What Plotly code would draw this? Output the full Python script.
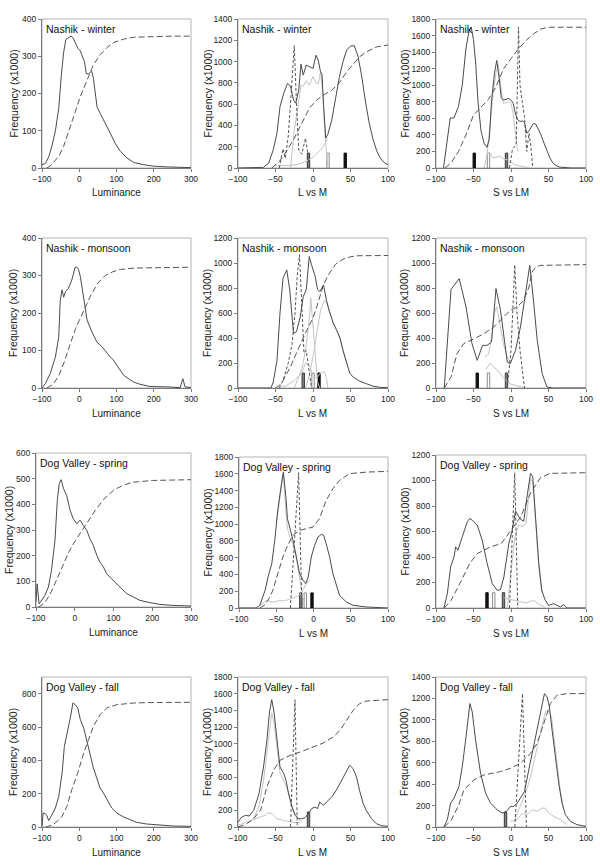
import plotly.graph_objects as go

# ------------------------------------------------------------------ DATA
LUM_TICKS = [-100, 0, 100, 200, 300]
CHR_TICKS = [-100, -50, 0, 50, 100]

# ---- Nashik winter : luminance
nw_lum_x = [-100, -91, -82, -73, -64, -55, -48, -42, -36, -29, -22, -17, -11, -4, 3, 8, 14, 19, 25, 30, 34, 38, 43, 48, 56, 70, 83, 96, 110, 128, 146, 172, 199, 235, 270, 300]
nw_lum_y = [9, 12, 30, 60, 100, 160, 250, 310, 345, 350, 354, 350, 335, 322, 314, 300, 285, 253, 253, 258, 259, 240, 200, 163, 147, 121, 94, 67, 45, 27, 15, 9, 5, 3, 2, 1]
nw_lum_cx = [-87, -75, -65, -55, -42, -29, -15, 3, 21, 38, 56, 74, 92, 119, 146, 190, 250, 300]
nw_lum_cy = [0, 8, 20, 31, 58, 94, 138, 192, 237, 277, 304, 323, 337, 346, 351, 353, 354, 354]

# ---- Nashik monsoon : luminance
nm_lum_x = [-100, -91, -78, -64, -55, -51, -46, -42, -37, -29, -20, -11, -6, -2, 3, 12, 21, 34, 47, 61, 74, 83, 92, 105, 119, 132, 146, 163, 190, 235, 271, 278, 284, 300]
nm_lum_y = [0, 12, 38, 83, 137, 235, 262, 242, 257, 266, 288, 322, 322, 316, 297, 244, 181, 150, 123, 110, 92, 83, 74, 56, 34, 25, 16, 10, 4, 3, 1, 25, 3, 1]
nm_lum_cx = [-87, -70, -55, -40, -25, -10, 0, 15, 30, 50, 70, 90, 110, 150, 200, 300]
nm_lum_cy = [0, 10, 32, 70, 115, 158, 180, 212, 245, 280, 300, 310, 316, 320, 321, 322]

# ---- Dog Valley spring : luminance
ds_lum_x = [-100, -97, -92, -85, -77, -68, -60, -51, -45, -40, -35, -29, -21, -12, -4, 5, 14, 22, 31, 39, 48, 57, 65, 74, 82, 95, 108, 121, 134, 151, 168, 194, 220, 254, 300]
ds_lum_y = [20, 90, 12, 26, 45, 78, 143, 260, 416, 481, 496, 461, 435, 377, 344, 325, 338, 318, 299, 266, 240, 201, 175, 156, 130, 110, 91, 71, 52, 39, 26, 17, 10, 6, 4]
ds_lum_cx = [-94, -85, -77, -65, -55, -42, -29, -15, 0, 25, 50, 75, 100, 125, 150, 200, 300]
ds_lum_cy = [0, 8, 19, 45, 78, 125, 169, 215, 255, 315, 370, 420, 455, 475, 486, 493, 496]

# ---- Dog Valley fall : luminance
df_lum_x = [-100, -97, -91, -87, -82, -73, -64, -55, -46, -40, -33, -24, -17, -11, -4, 3, 12, 21, 29, 38, 47, 56, 65, 74, 87, 101, 119, 137, 154, 181, 217, 253, 300]
df_lum_y = [4, 84, 80, 68, 38, 74, 114, 184, 324, 484, 554, 654, 744, 734, 714, 644, 594, 504, 424, 354, 294, 234, 204, 164, 114, 84, 60, 44, 28, 18, 10, 6, 4]
df_lum_cx = [-90, -75, -64, -46, -33, -20, -4, 12, 25, 38, 56, 74, 101, 146, 200, 300]
df_lum_cy = [0, 10, 24, 64, 124, 224, 324, 444, 524, 604, 674, 714, 734, 744, 747, 748]

# ---- Nashik winter : L vs M
nw_lm_x = [-100, -70, -66, -59, -53, -48, -44, -39, -34, -30, -26, -23, -19, -16, -13, -9, -5, 0, 4, 7, 10, 12, 14, 17, 20, 25, 30, 35, 40, 45, 50, 55, 60, 65, 70, 75, 80, 85, 90, 95, 100]
nw_lm_y = [0, 0, 6, 47, 171, 330, 577, 702, 795, 770, 639, 608, 733, 976, 873, 967, 951, 935, 1060, 1013, 904, 880, 600, 280, 320, 450, 650, 850, 1000, 1110, 1145, 1150, 1050, 860, 620, 420, 270, 160, 90, 50, 30]
nw_lm_a_x = [-30, -25, -20, -16, -13, -9, -5, 0, 4, 7, 10, 13, 16, 20]
nw_lm_a_y = [0, 350, 580, 780, 770, 820, 780, 860, 800, 790, 900, 700, 300, 0]
nw_lm_b_x = [-50, -40, -30, -20, -10, 0, 10, 17, 20]
nw_lm_b_y = [20, 20, 25, 35, 60, 100, 170, 240, 280]
nw_lm_d_x = [-45, -40, -37, -33, -30, -25, -22, -19, -15, -10, -7, -5]
nw_lm_d_y = [0, 180, 90, 300, 600, 1150, 600, 170, 130, 280, 140, 0]
nw_lm_cx = [-55, -45, -35, -25, -15, -5, 5, 15, 25, 35, 45, 54, 62, 71, 85, 100]
nw_lm_cy = [0, 60, 160, 280, 420, 560, 640, 690, 730, 800, 904, 982, 1044, 1091, 1138, 1155]
nw_lm_bar_x = [-6, 20, 43]
nw_lm_bar_h = [140, 140, 140]

# ---- Nashik winter : S vs LM
nw_s_x = [-90, -86, -81, -76, -70, -65, -60, -56, -53, -50, -47, -44, -40, -36, -32, -29, -26, -22, -19, -16, -13, -10, -6, -3, 0, 3, 6, 9, 12, 15, 18, 21, 24, 27, 30, 33, 36, 40, 44, 48, 52, 56, 60, 65, 70, 75, 80, 100]
nw_s_y = [0, 300, 605, 605, 745, 1000, 1450, 1650, 1700, 1550, 1250, 800, 450, 300, 250, 350, 800, 1150, 1300, 1100, 850, 820, 830, 840, 820, 780, 650, 580, 560, 570, 550, 420, 450, 500, 540, 530, 480, 400, 300, 200, 120, 60, 30, 10, 5, 0, 0, 0]
nw_s_a_x = [-36, -32, -28, -24, -20, -17, -14, -10, -6, -3, 0, 3, 6, 9]
nw_s_a_y = [0, 150, 500, 900, 1150, 1250, 1000, 780, 790, 800, 780, 650, 400, 200]
nw_s_b_x = [-32, -28, -24, -20, -15, -10, -5, 0, 5, 10, 15, 20, 25]
nw_s_b_y = [180, 180, 120, 130, 140, 110, 100, 70, 40, 30, 20, 10, 0]
nw_s_d_x = [-2, 2, 4, 7, 10, 12, 15, 18, 21, 24, 26, 29]
nw_s_d_y = [0, 230, 250, 300, 1700, 1000, 800, 620, 200, 420, 300, 0]
nw_s_cx = [-88, -80, -70, -60, -50, -40, -30, -20, -10, 0, 10, 20, 30, 40, 50, 60, 100]
nw_s_cy = [0, 60, 200, 400, 640, 740, 830, 980, 1200, 1320, 1440, 1540, 1620, 1680, 1700, 1700, 1700]
nw_s_bar_x = [-49, -30, -6]
nw_s_bar_h = [180, 180, 180]

# ---- Nashik monsoon : L vs M
nm_lm_x = [-100, -56, -53, -48, -44, -40, -35, -31, -26, -22, -17, -13, -9, -5, -2, 3, 6, 9, 14, 18, 22, 27, 31, 36, 40, 45, 49, 53, 58, 62, 71, 80, 90, 100]
nm_lm_y = [0, 0, 48, 222, 600, 878, 945, 785, 437, 450, 570, 731, 785, 1052, 986, 892, 790, 771, 825, 700, 610, 520, 470, 400, 300, 200, 120, 90, 70, 55, 35, 15, 5, 2]
nm_lm_a_x = [-25, -15, -10, -5, -3, 0, 3, 6, 9]
nm_lm_a_y = [0, 150, 300, 550, 720, 500, 250, 50, 0]
nm_lm_b_x = [-10, -5, 0, 5, 10, 15, 18, 22, 27, 31, 36, 40, 45]
nm_lm_b_y = [0, 100, 250, 450, 620, 700, 690, 610, 520, 470, 400, 300, 200]
nm_lm_e_x = [-45, -35, -25, -15, -10, -5, 0, 5, 10, 15, 18, 20]
nm_lm_e_y = [0, 20, 60, 120, 200, 180, 100, 80, 120, 130, 80, 0]
nm_lm_d_x = [-45, -40, -33, -28, -24, -21, -18, -15, -12, -9, -6, -2]
nm_lm_d_y = [0, 60, 200, 350, 600, 900, 1066, 700, 280, 300, 150, 0]
nm_lm_cx = [-50, -45, -40, -35, -30, -25, -20, -15, -10, -5, 0, 5, 10, 14, 20, 25, 30, 40, 50, 60, 80, 100]
nm_lm_cy = [0, 20, 60, 110, 170, 240, 310, 380, 440, 500, 560, 650, 740, 825, 900, 950, 990, 1030, 1050, 1058, 1060, 1060]
nm_lm_bar_x = [-13, 0, 8]
nm_lm_bar_h = [120, 120, 120]

# ---- Nashik monsoon : S vs LM
nm_s_x = [-89, -80, -69, -60, -52, -45, -38, -32, -26, -20, -14, -9.5, -5, -1, 6, 12.6, 19, 25, 29.5, 35, 41.5, 48, 55, 100]
nm_s_y = [0, 789, 875, 648, 355, 221, 341, 341, 368, 795, 621, 408, 208, 195, 301, 488, 728, 981, 728, 381, 115, 8, 0, 0]
nm_s_a_x = [-35, -30, -26, -22, -19, -15, -10, -5, 0]
nm_s_a_y = [250, 270, 400, 600, 650, 520, 350, 250, 200]
nm_s_b_x = [-33, -28, -20, -15, -10, -5, 0, 5, 10, 20]
nm_s_b_y = [150, 200, 150, 120, 80, 50, 30, 20, 15, 0]
nm_s_d_x = [-5, 0, 3, 5, 8, 12, 18]
nm_s_d_y = [0, 300, 700, 985, 600, 300, 0]
nm_s_cx = [-89, -80, -72, -63, -49, -36, -23, -10, -1, 8, 17, 24, 28, 33, 39, 100]
nm_s_cy = [0, 88, 275, 355, 395, 435, 488, 568, 621, 648, 701, 808, 928, 968, 981, 987]
nm_s_bar_x = [-45, -30, -6]
nm_s_bar_h = [120, 120, 120]

# ---- Dog Valley spring : L vs M
ds_lm_x = [-100, -77, -72, -65, -61, -56, -52, -48, -43, -40.5, -37, -35, -32, -27.5, -23, -18.6, -14, -10.5, -7, -3, 1.5, 6, 10.5, 13.6, 17, 21.7, 26, 31, 35, 44, 53, 71, 100]
ds_lm_y = [0, 0, 32, 210, 370, 528, 806, 1164, 1482, 1620, 1323, 1065, 965, 806, 608, 410, 330, 290, 370, 608, 747, 846, 878, 866, 767, 608, 410, 250, 150, 72, 32, 12, 0]
ds_lm_a_x = [-50, -45, -40.5, -37, -35, -32, -27, -23, -19, -15, -12]
ds_lm_a_y = [1000, 1350, 1600, 1150, 950, 850, 750, 600, 350, 150, 50]
ds_lm_b_x = [-72, -63, -54, -45, -39, -30, -25, -19, -15, -10, -5]
ds_lm_b_y = [30, 90, 70, 90, 83, 110, 130, 150, 200, 290, 330]
ds_lm_d_x = [-31, -20, -15.5]
ds_lm_d_y = [0, 1613, 0]
ds_lm_cx = [-72, -65, -60, -55, -50, -45, -41, -35, -27.5, -18.6, -10, -0.7, 8, 17, 26, 35, 48.5, 71, 100]
ds_lm_cy = [0, 40, 110, 200, 350, 500, 608, 740, 866, 925, 945, 965, 1065, 1283, 1422, 1522, 1602, 1620, 1629]
ds_lm_bar_x = [-17, -11, -2]
ds_lm_bar_h = [180, 180, 180]

# ---- Dog Valley spring : S vs LM
ds_s_x = [-89.4, -84.9, -80.5, -76, -73.8, -70.7, -65, -58.3, -55.2, -51.7, -45, -38.4, -31.7, -25, -18.4, -14, -9.5, -2.9, 1.6, 6, 12, 17, 22, 26, 29, 33, 37, 41, 45, 50, 57, 65.9, 70.3, 74.7, 100]
ds_s_y = [0, 113, 322, 401, 480, 453, 558, 676, 702, 689, 650, 532, 348, 191, 139, 144, 244, 506, 610, 760, 700, 680, 900, 1056, 1030, 700, 350, 140, 70, 20, 34, 8, 26, 0, 0]
ds_s_a_x = [-5, 0, 5, 10, 15, 20, 23, 26, 29, 33, 37, 41]
ds_s_a_y = [0, 300, 550, 650, 640, 660, 850, 1010, 990, 680, 330, 120]
ds_s_b_x = [-10, -5, 0, 5, 10, 15, 20, 25, 30, 35, 40, 45]
ds_s_b_y = [80, 70, 65, 60, 50, 45, 40, 50, 60, 40, 20, 10]
ds_s_d_x = [-2, 5, 9]
ds_s_d_y = [0, 1060, 0]
ds_s_cx = [-89, -80, -70, -62, -55, -45, -35, -27, -13, 0, 13, 26, 39, 52, 100]
ds_s_cy = [0, 60, 170, 270, 350, 427, 460, 480, 505, 610, 715, 900, 1020, 1056, 1061]
ds_s_bar_x = [-32, -23, -10]
ds_s_bar_h = [120, 120, 120]

# ---- Dog Valley fall : L vs M
df_lm_x = [-100, -95, -90, -85, -79, -72, -66, -61.5, -58, -55, -52, -48, -44, -39, -36, -33, -28, -24, -19, -15, -10.6, -6, -2, 2.7, 6, 9, 13.7, 18, 25, 31, 38, 44.7, 49, 53.5, 58, 62, 67, 71, 78, 84.5, 91, 100]
df_lm_y = [60, 120, 140, 132, 200, 400, 720, 1040, 1380, 1528, 1380, 1080, 720, 640, 560, 420, 240, 140, 100, 100, 112, 160, 220, 240, 220, 300, 260, 300, 360, 440, 560, 680, 740, 700, 600, 440, 280, 200, 100, 40, 16, 8]
df_lm_a_x = [-80, -72, -66, -61.5, -58, -55, -52, -48, -44, -39, -35, -30, -25, -20, -15]
df_lm_a_y = [80, 250, 550, 900, 1200, 1370, 1250, 950, 650, 550, 480, 300, 180, 100, 60]
df_lm_b_x = [-100, -88, -75, -64, -60, -55, -48, -39, -30, -17]
df_lm_b_y = [20, 60, 100, 140, 170, 160, 100, 80, 60, 50]
df_lm_d_x = [-30, -24, -21]
df_lm_d_y = [0, 1528, 0]
df_lm_cx = [-100, -90, -80, -70, -61.5, -52.7, -44, -30.5, -17, 0, 13.7, 27, 36, 44.7, 53.5, 62, 71, 100]
df_lm_cy = [0, 30, 90, 200, 480, 680, 800, 860, 900, 960, 1008, 1080, 1160, 1280, 1400, 1480, 1512, 1528]
df_lm_bar_x = [-6]
df_lm_bar_h = [180]

# ---- Dog Valley fall : S vs LM
df_s_x = [-89.4, -84.9, -80.5, -76, -69.4, -65, -60.5, -54.8, -51.7, -47.2, -40.6, -33.9, -27.3, -18.4, -11.8, -6, -0.7, 3.8, 8.2, 12.6, 18, 23.7, 28.2, 32.6, 38.4, 44.6, 48.1, 51.2, 54.8, 59.2, 63.6, 68, 72.5, 79.2, 88, 100]
df_s_y = [0, 68, 223, 270, 378, 563, 811, 1152, 1075, 811, 502, 316, 223, 161, 130, 145, 192, 192, 223, 270, 331, 533, 688, 843, 1028, 1245, 1214, 1121, 904, 657, 409, 223, 115, 53, 22, 6]
df_s_a_x = [5, 10, 16, 20, 25, 30, 34, 40, 46, 49, 54, 58, 62, 66, 70]
df_s_a_y = [68, 150, 254, 330, 440, 600, 719, 904, 1075, 1090, 1028, 811, 560, 330, 180]
df_s_b_x = [-0.7, 8.2, 14.9, 21.5, 28, 34.8, 41.5, 45.9, 50.3, 57, 65.9, 74.7]
df_s_b_y = [53, 68, 130, 115, 161, 145, 176, 176, 130, 99, 68, 22]
df_s_d_x = [5.1, 15.3, 20.6]
df_s_d_y = [0, 1245, 0]
df_s_cx = [-89, -80, -70, -62.7, -49.4, -36, -14, -0.7, 12.6, 26, 34.8, 43.7, 52.5, 61.4, 74.7, 100]
df_s_cy = [0, 60, 200, 347, 440, 486, 517, 548, 595, 688, 780, 966, 1152, 1230, 1245, 1245]
df_s_bar_x = [-7.3]
df_s_bar_h = [140]

# ------------------------------------------------------------------ STYLE
W, H = 600, 865
NARROW = "Liberation Sans Narrow, Arial Narrow, Liberation Sans, Arial, sans-serif"
REG = "Liberation Sans, Arial, sans-serif"
C_SOLID = "#4a4a4a"
C_LIGHT = "#c4c4c4"
C_DASH = "#555555"
C_AXIS = "#7a7a7a"
C_FRAME = "#b4b4b4"
BAR_FILL = {"k": "#111111", "w": "#ffffff", "g": "#808080"}
BAR_LINE = {"k": "#111111", "w": "#8c8c8c", "g": "#3a3a3a"}

# panel boxes in page pixels: left, top, right, bottom
panels = [
    dict(box=(42, 19, 191, 168), title="Nashik - winter", xt="Luminance", kind="lum", ymax=400, dt=100),
    dict(box=(238, 19, 388, 168), title="Nashik - winter", xt="L vs M", kind="chr", ymax=1400, dt=200),
    dict(box=(436, 19, 586, 168), title="Nashik - winter", xt="S vs LM", kind="chr", ymax=1800, dt=200),
    dict(box=(42, 238, 191, 388), title="Nashik - monsoon", xt="Luminance", kind="lum", ymax=400, dt=100),
    dict(box=(238, 238, 388, 388), title="Nashik - monsoon", xt="L vs M", kind="chr", ymax=1200, dt=200),
    dict(box=(436, 238, 586, 388), title="Nashik - monsoon", xt="S vs LM", kind="chr", ymax=1200, dt=200),
    dict(box=(36, 453, 191, 607), title="Dog Valley - spring", xt="Luminance", kind="lum", ymax=600, dt=100),
    dict(box=(239, 457, 388, 608), title="Dog Valley - spring", xt="L vs M", kind="chr", ymax=1800, dt=200),
    dict(box=(436, 455, 586, 608), title="Dog Valley - spring", xt="S vs LM", kind="chr", ymax=1200, dt=200),
    dict(box=(42, 677, 191, 827), title="Dog Valley - fall", xt="Luminance", kind="lum", ymax=900, dt=200),
    dict(box=(238, 677, 388, 827), title="Dog Valley - fall", xt="L vs M", kind="chr", ymax=1800, dt=200),
    dict(box=(436, 677, 586, 827), title="Dog Valley - fall", xt="S vs LM", kind="chr", ymax=1400, dt=200),
]


def px(xp):
    return xp / W


def py(yp):
    return 1 - yp / H


fig = go.Figure()


def ax(n):
    return ("x" if n == 1 else f"x{n}"), ("y" if n == 1 else f"y{n}")


def line(n, x, y, color, dash="solid", width=1.0):
    xa, ya = ax(n)
    fig.add_trace(go.Scatter(x=x, y=y, mode="lines", xaxis=xa, yaxis=ya,
                             line=dict(color=color, width=width, dash=dash),
                             showlegend=False, hoverinfo="skip"))


def bars(n, x, h, kinds):
    xa, ya = ax(n)
    fig.add_trace(go.Bar(x=x, y=h, width=3.2, xaxis=xa, yaxis=ya,
                         marker=dict(color=[BAR_FILL[k] for k in kinds],
                                     line=dict(color=[BAR_LINE[k] for k in kinds], width=1)),
                         showlegend=False, hoverinfo="skip"))


LONG = "6px,3px"
SHORT = "3px,2px"

for n, (x, y, cx, cy) in zip([1, 4, 7, 10], [
        (nw_lum_x, nw_lum_y, nw_lum_cx, nw_lum_cy),
        (nm_lum_x, nm_lum_y, nm_lum_cx, nm_lum_cy),
        (ds_lum_x, ds_lum_y, ds_lum_cx, ds_lum_cy),
        (df_lum_x, df_lum_y, df_lum_cx, df_lum_cy)]):
    line(n, x, y, C_SOLID)
    line(n, cx, cy, C_DASH, LONG)

chrom = [
    (2, nw_lm_x, nw_lm_y, [(nw_lm_a_x, nw_lm_a_y), (nw_lm_b_x, nw_lm_b_y)], (nw_lm_d_x, nw_lm_d_y), (nw_lm_cx, nw_lm_cy), (nw_lm_bar_x, nw_lm_bar_h, "gwk")),
    (3, nw_s_x, nw_s_y, [(nw_s_a_x, nw_s_a_y), (nw_s_b_x, nw_s_b_y)], (nw_s_d_x, nw_s_d_y), (nw_s_cx, nw_s_cy), (nw_s_bar_x, nw_s_bar_h, "kwg")),
    (5, nm_lm_x, nm_lm_y, [(nm_lm_a_x, nm_lm_a_y), (nm_lm_b_x, nm_lm_b_y), (nm_lm_e_x, nm_lm_e_y)], (nm_lm_d_x, nm_lm_d_y), (nm_lm_cx, nm_lm_cy), (nm_lm_bar_x, nm_lm_bar_h, "gwk")),
    (6, nm_s_x, nm_s_y, [(nm_s_a_x, nm_s_a_y), (nm_s_b_x, nm_s_b_y)], (nm_s_d_x, nm_s_d_y), (nm_s_cx, nm_s_cy), (nm_s_bar_x, nm_s_bar_h, "kwg")),
    (8, ds_lm_x, ds_lm_y, [(ds_lm_a_x, ds_lm_a_y), (ds_lm_b_x, ds_lm_b_y)], (ds_lm_d_x, ds_lm_d_y), (ds_lm_cx, ds_lm_cy), (ds_lm_bar_x, ds_lm_bar_h, "gwk")),
    (9, ds_s_x, ds_s_y, [(ds_s_a_x, ds_s_a_y), (ds_s_b_x, ds_s_b_y)], (ds_s_d_x, ds_s_d_y), (ds_s_cx, ds_s_cy), (ds_s_bar_x, ds_s_bar_h, "kwg")),
    (11, df_lm_x, df_lm_y, [(df_lm_a_x, df_lm_a_y), (df_lm_b_x, df_lm_b_y)], (df_lm_d_x, df_lm_d_y), (df_lm_cx, df_lm_cy), (df_lm_bar_x, df_lm_bar_h, "g")),
    (12, df_s_x, df_s_y, [(df_s_a_x, df_s_a_y), (df_s_b_x, df_s_b_y)], (df_s_d_x, df_s_d_y), (df_s_cx, df_s_cy), (df_s_bar_x, df_s_bar_h, "g")),
]
for n, sx, sy, lights, dsh, cum, bar in chrom:
    for lx, ly in lights:
        line(n, lx, ly, C_LIGHT)
    line(n, dsh[0], dsh[1], C_DASH, SHORT)
    line(n, cum[0], cum[1], C_DASH, LONG)
    line(n, sx, sy, C_SOLID)
    bars(n, bar[0], bar[1], bar[2])

layout = dict(width=W, height=H, margin=dict(l=0, r=0, t=0, b=0, autoexpand=False),
              paper_bgcolor="white", plot_bgcolor="white",
              font=dict(family=NARROW, size=10, color="#222222"),
              showlegend=False, bargap=0)
shapes, annots = [], []
for i, p in enumerate(panels):
    n = i + 1
    l, t, r, b = p["box"]
    sfx = "" if n == 1 else str(n)
    xa, ya = ax(n)
    if p["kind"] == "lum":
        xr, xt = [-100, 300], LUM_TICKS
    else:
        xr, xt = [-100, 100], CHR_TICKS
    yticks = [v for v in range(0, p["ymax"] + 1, p["dt"])]
    common = dict(showline=True, linecolor=C_AXIS, linewidth=1, ticks="outside", ticklen=3,
                  tickcolor=C_AXIS, showgrid=False, zeroline=False, automargin=False,
                  tickfont=dict(size=8.5, family=NARROW, color="#222"), fixedrange=True)
    layout["xaxis" + sfx] = dict(domain=[px(l), px(r)], range=xr, tickvals=xt, anchor=ya, **common)
    layout["yaxis" + sfx] = dict(domain=[py(b), py(t)], range=[0, p["ymax"]], tickvals=yticks,
                                 anchor=xa, **common)
    shapes.append(dict(type="rect", xref=f"{xa} domain", yref=f"{ya} domain", x0=0, x1=1, y0=0, y1=1,
                       line=dict(color=C_FRAME, width=1), layer="below"))
    annots.append(dict(text=p["title"], xref="paper", yref="paper", x=px(l + 2), y=py(t + 2),
                       xanchor="left", yanchor="top", showarrow=False,
                       font=dict(size=10.5, family=NARROW, color="#111")))
    annots.append(dict(text=p["xt"], xref="paper", yref="paper", x=px((l + r) / 2), y=py(b + 25),
                       xanchor="center", yanchor="middle", showarrow=False,
                       font=dict(size=10, family=NARROW, color="#222")))
    ytx = {42: 13, 36: 9, 238: 207, 239: 207, 436: 404}[l]
    annots.append(dict(text="Frequency (x1000)", xref="paper", yref="paper", x=px(ytx), y=py((t + b) / 2),
                       xanchor="center", yanchor="middle", textangle=-90, showarrow=False,
                       font=dict(size=10.5, family=REG, color="#222")))
layout["shapes"] = shapes
layout["annotations"] = annots
fig.update_layout(**layout)
fig.write_html("out.html",
               config={"displayModeBar": False, "staticPlot": True},
               post_script="document.body.style.margin='0';document.body.style.padding='0';")
